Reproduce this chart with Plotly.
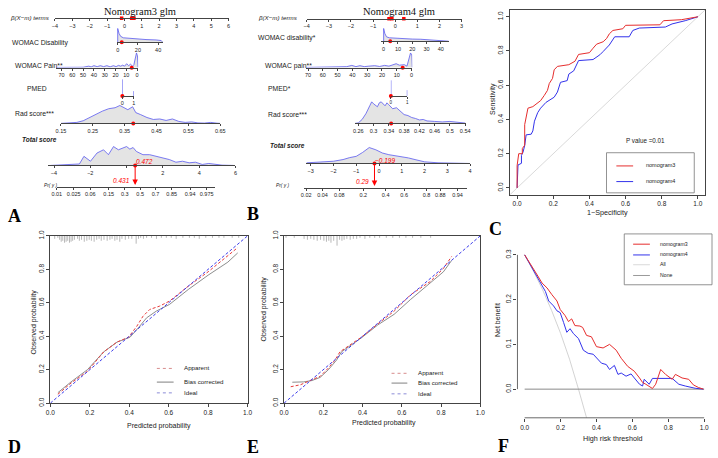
import numpy as np
import plotly.graph_objects as go

W, H = 718, 458
SANS = "Liberation Sans, Arial, sans-serif"
SERIF = "Liberation Serif, Times New Roman, serif"
AX = "#444444"

# ======================= DATA =======================
# ---- Panel A : Nomogram3 glm ----
A_title = "Nomogram3 glm"
A_beta_ticks = [-4, -3, -2, -1, 0, 1, 2, 3, 4, 5, 6]
A_beta_points = [-0.16, 0.42, 0.55]
A_dis_ticks = [0, 20, 40]
A_dis_x = [0, 0, 1.3, 2.9, 5.5, 12, 18.5, 28, 38, 43, 44.6]
A_dis_d = [0, 14, 9, 6, 4.5, 3.8, 3.3, 2.7, 2.3, 1.7, 0]
A_dis_obs = 4
A_pain_ticks = [70, 60, 50, 40, 30, 20, 10, 0]
A_pain_x = [75, 60, 50, 44.7, 42.6, 40, 37, 34, 31, 28, 25, 22, 19.5, 17.3, 15.2, 13.4,
            11.6, 9.7, 7.9, 6.1, 4.3, 3, 1.8, 0.6, -0.3, -0.9]
A_pain_d = [0.2, 0.3, 0.4, 1.5, 0.7, 2, 1, 2, 1, 2, 0.8, 2, 1, 2.3, 1.5, 2.5,
            1.5, 4, 2, 3.5, 1.5, 3, 10, 15, 12, 0]
A_pain_obs = 5
A_pmed_levels = [0, 1]
A_pmed_d = [17, 5]
A_pmed_obs = 0
A_rad_ticks = [0.15, 0.25, 0.35, 0.45, 0.55, 0.65]
A_rad_x = [0.15, 0.18, 0.20, 0.22, 0.25, 0.28, 0.30, 0.32, 0.335, 0.35, 0.36, 0.375, 0.385, 0.40,
           0.42, 0.44, 0.46, 0.48, 0.50, 0.52, 0.54, 0.56, 0.58, 0.60, 0.62, 0.64, 0.65]
A_rad_d = [0, 0.3, 1, 2.7, 8, 12.5, 15, 16, 18.3, 16, 14, 17, 11, 9,
           6, 4, 4.5, 3, 4.5, 2, 1, 1.5, 0.5, 0.3, 1, 0.2, 0]
A_rad_obs = 0.377
A_tot_ticks = [-4, -2, 0, 2, 4, 6]
A_tot_labels = ["−4", "−2", "", "2", "4", "6"]
A_tot_x = [-4.2, -3.5, -3.0, -2.6, -2.35, -1.99, -1.63, -1.27, -1.0, -0.72, -0.45, -0.18, 0, 0.18,
           0.36, 0.54, 0.9, 1.27, 1.63, 2.0, 2.36, 2.72, 3.08, 3.45, 3.8, 4.17, 4.53, 5.26, 5.9]
A_tot_d = [0, 0.5, 1, 1.5, 9.3, 4.3, 12.7, 16, 11, 19.3, 16, 17.7, 19.3, 16.7,
           18.3, 14.3, 11, 11, 9.3, 7.7, 6, 3.3, 4.3, 2.7, 3.3, 1, 2, 0.3, 0]
A_total = 0.472
A_prob = 0.431
A_prob_ticks = [0.01, 0.025, 0.06, 0.15, 0.3, 0.5, 0.7, 0.85, 0.94, 0.975]

# ---- Panel B : Nomogram4 glm ----
B_title = "Nomogram4 glm"
B_beta_ticks = [-4, -3, -2, -1, 0, 1, 2, 3]
B_beta_points = [-0.28, -0.15, 0.39]
B_dis_ticks = [0, 10, 20, 30, 40]
B_dis_x = [0, 0, 0.8, 2, 4, 8, 14, 20, 26, 30, 36, 40, 44, 45.5]
B_dis_d = [0, 13, 8, 4.5, 3.5, 3, 2.6, 2.2, 2, 1.7, 1.3, 1, 0.6, 0]
B_dis_obs = 4.6
B_pain_ticks = [70, 60, 50, 40, 30, 20, 10, 0]
B_pain_x = [71.5, 67, 56, 47, 43.8, 40.4, 37.6, 34.9, 32, 28.9, 24.9, 21.6, 18.2, 15.3,
            12.7, 10.4, 8.2, 4.9, 3.1, 1.8, 0.7, -0.2, -0.5]
B_pain_d = [0.2, 0.3, 0.3, 0.5, 1, 2.3, 1, 2, 1, 1.5, 2, 1.2, 2.3, 1.5,
            2.7, 4, 2.5, 3, 1.5, 10, 15, 13, 0]
B_pain_obs = 6
B_pmed_levels = [0, 1]
B_pmed_d = [16, 6]
B_pmed_obs = 0
B_rad_ticks = [0.26, 0.3, 0.34, 0.38, 0.42, 0.46, 0.5, 0.54]
B_rad_x = [0.2515, 0.26, 0.27, 0.28, 0.29, 0.295, 0.30, 0.31, 0.315, 0.32, 0.33, 0.335, 0.34, 0.35,
           0.36, 0.37, 0.38, 0.39, 0.40, 0.41, 0.42, 0.43, 0.44, 0.46, 0.48, 0.50, 0.52, 0.54]
B_rad_d = [0, 0.5, 4, 10, 18, 22, 20, 17, 21, 22, 18, 21, 19, 15,
           16, 12, 9, 8, 6, 5, 3.5, 4, 2.5, 2, 1.5, 2, 1, 0.3]
B_rad_obs = 0.346
B_tot_ticks = [-3, -2, -1, 0, 1, 2, 3, 4]
B_tot_labels = ["−3", "−2", "−1", "0", "1", "2", "3", "4"]
B_tot_x = [-3.2, -3.16, -2.0, -1.58, -1.29, -1.0, -0.72, -0.43, -0.14, 0.15, 0.43, 0.72,
           1.0, 1.29, 1.58, 2.0, 2.59, 3.16, 4.0]
B_tot_d = [0, 0.7, 2.3, 4, 6, 7.3, 11.3, 16.3, 14, 10.7, 9, 8,
           6.7, 5.7, 4, 1.7, 0.7, 0.3, 0]
B_total = -0.199
B_prob = 0.29
B_prob_ticks = [0.02, 0.04, 0.08, 0.2, 0.4, 0.6, 0.8, 0.88, 0.94]

# ---- Panel C : ROC ----
C_ticks = [0, 0.2, 0.4, 0.6, 0.8, 1.0]
C_red_fpr = [0, 0, 0.009, 0.029, 0.029, 0.042, 0.042, 0.05, 0.06, 0.087, 0.114, 0.13, 0.15, 0.168,
             0.178, 0.196, 0.205, 0.223, 0.286, 0.32, 0.34, 0.40, 0.42, 0.44, 0.476, 0.495, 0.51,
             0.53, 0.585, 0.60, 0.79, 0.81, 0.91, 0.975, 1.0]
C_red_tpr = [0, 0.13, 0.2, 0.2, 0.23, 0.25, 0.37, 0.42, 0.466, 0.475, 0.494, 0.51, 0.54, 0.57,
             0.61, 0.64, 0.69, 0.71, 0.72, 0.74, 0.78, 0.79, 0.816, 0.84, 0.854, 0.873, 0.90,
             0.92, 0.93, 0.95, 0.953, 0.977, 0.983, 0.996, 1.0]
C_blue_fpr = [0, 0.005, 0.024, 0.024, 0.033, 0.042, 0.05, 0.078, 0.087, 0.096, 0.114, 0.13, 0.16,
              0.205, 0.223, 0.24, 0.277, 0.286, 0.313, 0.34, 0.42, 0.458, 0.476, 0.51, 0.54, 0.62,
              0.64, 0.676, 0.82, 0.857, 0.93, 1.0]
C_blue_tpr = [0, 0.134, 0.144, 0.19, 0.21, 0.248, 0.31, 0.314, 0.333, 0.39, 0.44, 0.466, 0.50,
              0.53, 0.56, 0.617, 0.627, 0.665, 0.684, 0.744, 0.75, 0.778, 0.797, 0.835, 0.883, 0.883,
              0.92, 0.934, 0.94, 0.958, 0.977, 1.0]
C_names = ["nomogram3", "nomogram4"]
C_pvalue = "P value =0.01"

# ---- Panel D : calibration nomogram3 ----
D_ticks = [0, 0.2, 0.4, 0.6, 0.8, 1.0]
D_app_x = [0.038, 0.105, 0.188, 0.27, 0.338, 0.396, 0.438, 0.47, 0.504, 0.554, 0.604, 0.70, 0.80, 0.90, 0.95]
D_app_y = [0.053, 0.12, 0.19, 0.306, 0.365, 0.394, 0.459, 0.52, 0.56, 0.58, 0.61, 0.70, 0.785, 0.88, 0.93]
D_bc_x = [0.038, 0.105, 0.188, 0.27, 0.338, 0.404, 0.446, 0.488, 0.537, 0.604, 0.70, 0.80, 0.90, 0.95]
D_bc_y = [0.0625, 0.127, 0.2, 0.306, 0.365, 0.394, 0.45, 0.51, 0.55, 0.59, 0.68, 0.765, 0.843, 0.898]
D_ideal = [0, 1]
D_rug_x = [0.022, 0.038, 0.047, 0.055, 0.063, 0.072, 0.08, 0.088, 0.097, 0.105, 0.113, 0.122, 0.138,
           0.147, 0.158, 0.172, 0.185, 0.197, 0.208, 0.222, 0.235, 0.247, 0.258, 0.272, 0.288, 0.302,
           0.313, 0.327, 0.338, 0.352, 0.363, 0.38, 0.397, 0.413, 0.435, 0.447, 0.458, 0.472, 0.488,
           0.513, 0.538, 0.563, 0.588, 0.613, 0.638, 0.672, 0.705, 0.73, 0.755, 0.788, 0.822, 0.855,
           0.88, 0.922, 0.955]
D_rug_n = [3, 2, 4, 6, 5, 7, 6, 5, 7, 6, 5, 4, 3,
           5, 4, 6, 5, 4, 5, 6, 4, 3, 5, 4, 5, 4,
           3, 5, 4, 6, 3, 4, 3, 3, 8, 3, 2, 3, 2,
           2, 3, 2, 2, 2, 3, 2, 2, 2, 3, 2, 2, 2,
           2, 2, 2]

# ---- Panel E : calibration nomogram4 ----
E_app_x = [0.034, 0.084, 0.142, 0.184, 0.226, 0.26, 0.285, 0.31, 0.394, 0.477, 0.561, 0.645, 0.745, 0.812, 0.854]
E_app_y = [0.098, 0.11, 0.14, 0.16, 0.21, 0.258, 0.307, 0.326, 0.394, 0.473, 0.55, 0.648, 0.727, 0.805, 0.877]
E_bc_x = [0.042, 0.1, 0.142, 0.184, 0.226, 0.268, 0.293, 0.327, 0.394, 0.477, 0.561, 0.645, 0.745, 0.812, 0.854]
E_bc_y = [0.125, 0.127, 0.135, 0.154, 0.2, 0.258, 0.307, 0.336, 0.39, 0.467, 0.531, 0.62, 0.717, 0.785, 0.853]
E_rug_x = [0.01, 0.052, 0.102, 0.119, 0.136, 0.152, 0.169, 0.186, 0.203, 0.216, 0.228, 0.239, 0.253,
           0.27, 0.283, 0.295, 0.306, 0.32, 0.337, 0.353, 0.37, 0.387, 0.412, 0.437, 0.462, 0.487,
           0.521, 0.554, 0.588, 0.621, 0.655, 0.697, 0.747]
E_rug_n = [2, 2, 3, 4, 3, 4, 5, 4, 5, 6, 5, 7, 5,
           10, 4, 5, 4, 3, 4, 3, 3, 2, 3, 2, 2, 2,
           2, 2, 2, 2, 2, 2, 2]
DE_legend = ["Apparent", "Bias corrected", "Ideal"]

# ---- Panel F : decision curve ----
F_xticks = [0, 0.2, 0.4, 0.6, 0.8, 1.0]
F_yticks = [0, 0.1, 0.2, 0.3]
F_red_x = [0, 0.033, 0.07, 0.097, 0.125, 0.152, 0.18, 0.198, 0.226, 0.244, 0.262, 0.28, 0.308, 0.323,
           0.345, 0.372, 0.4, 0.437, 0.473, 0.51, 0.538, 0.574, 0.611, 0.64, 0.657, 0.675, 0.694,
           0.712, 0.73, 0.758, 0.785, 0.822, 0.84, 0.877, 0.914, 0.94, 0.969, 0.996]
F_red_y = [0.3, 0.28, 0.255, 0.237, 0.226, 0.211, 0.197, 0.178, 0.164, 0.151, 0.157, 0.142, 0.141, 0.138,
           0.12, 0.117, 0.095, 0.092, 0.1, 0.087, 0.069, 0.051, 0.04, 0.025, 0.015, 0.011, 0.007,
           0.0015, 0.011, 0.044, 0.033, 0.022, 0.033, 0.025, 0.022, 0.0095, 0.0036, 0.0]
F_blue_x = [0, 0.05, 0.088, 0.116, 0.134, 0.161, 0.18, 0.198, 0.217, 0.235, 0.253, 0.272, 0.3, 0.327,
            0.354, 0.382, 0.428, 0.455, 0.473, 0.5, 0.52, 0.538, 0.565, 0.593, 0.611, 0.64, 0.657,
            0.666, 0.694, 0.712, 0.822, 0.859, 0.895, 0.95, 0.996]
F_blue_y = [0.3, 0.266, 0.24, 0.218, 0.197, 0.186, 0.175, 0.171, 0.149, 0.127, 0.135, 0.124, 0.113, 0.087,
            0.08, 0.078, 0.058, 0.055, 0.044, 0.053, 0.033, 0.036, 0.029, 0.034, 0.025, 0.011, 0.007,
            0.022, 0.011, 0.024, 0.024, 0.011, 0.007, 0.002, 0.0]
F_all_x = [0, 0.05, 0.1, 0.15, 0.2, 0.25, 0.3, 0.345]
F_all_y = [0.3, 0.263, 0.222, 0.176, 0.125, 0.067, 0.0, -0.064]
F_none_x = [0, 1]
F_none_y = [0, 0]
F_names = ["nomogram3", "nomogram4", "All", "None"]

# ======================= LAYOUT HELPERS =======================
fig = go.Figure()
axes_layout, shapes, annots = {}, [], []
counter = [0]


def new_axes(xdom_px, ydom_px, xrange, yrange, xkw=None, ykw=None):
    counter[0] += 1
    s = "" if counter[0] == 1 else str(counter[0])
    xa = dict(domain=[xdom_px[0] / W, xdom_px[1] / W], range=list(xrange), anchor="y" + s,
              showgrid=False, zeroline=False, fixedrange=True)
    ya = dict(domain=[1 - ydom_px[1] / H, 1 - ydom_px[0] / H], range=list(yrange), anchor="x" + s,
              showgrid=False, zeroline=False, fixedrange=True)
    xa.update(xkw or {})
    ya.update(ykw or {})
    axes_layout["xaxis" + s] = xa
    axes_layout["yaxis" + s] = ya
    return "x" + s, "y" + s


def text(x, y, s, size, color="#222", anchor="left", angle=0, family=SANS):
    annots.append(dict(x=x / W, y=1 - y / H, xref="paper", yref="paper", text=s, showarrow=False,
                       xanchor=anchor, yanchor="middle", textangle=angle,
                       font=dict(size=size, color=color, family=family)))


def fmt(v):
    return str(v).replace("-", "−")


def nomo_axis(line_y, top_y, cal, rng, ticks, labels, fsize, yr):
    v0, p0, v1, p1 = cal
    s = (p1 - p0) / (v1 - v0)
    x0 = p0 + (rng[0] - v0) * s
    x1 = p0 + (rng[1] - v0) * s
    xkw = dict(showline=True, linecolor=AX, linewidth=0.8, ticks="outside", ticklen=2, tickwidth=0.6,
               tickcolor=AX, tickvals=ticks, ticktext=labels,
               tickfont=dict(size=fsize, color="#222", family=SANS))
    return new_axes((x0, x1), (top_y, line_y), rng, yr, xkw, dict(visible=False))


DENS_FILL = "#e4e4e4"
DENS_LINE = "rgb(90,90,240)"


def density(xa, ya, xs, ds):
    fig.add_trace(go.Scatter(x=xs, y=ds, mode="lines", fill="tozeroy", fillcolor=DENS_FILL,
                             line=dict(color=DENS_LINE, width=0.8), xaxis=xa, yaxis=ya, hoverinfo="skip"))


def obs_dot(xa, ya, v, symbol="circle", size=4):
    vals = [v] if np.isscalar(v) else list(v)
    fig.add_trace(go.Scatter(x=vals, y=[0] * len(vals),
                             mode="markers", marker=dict(color="red", size=size, symbol=symbol),
                             cliponaxis=False, xaxis=xa, yaxis=ya, hoverinfo="skip"))


def build_nomogram(L, d):
    text(L["title"][0], L["title"][1], d["title"], 10.5, "#111", "center", family=SERIF)
    # beta terms
    b = L["beta"]
    xa, ya = nomo_axis(b["line"], b["line"] - 4, b["cal"], b["rng"], d["beta_ticks"],
                       [fmt(t) for t in d["beta_ticks"]], 5.5, (0, 1))
    obs_dot(xa, ya, d["beta_points"], "square", 3.5)
    text(b["label"][0], b["label"][1], "<i>β(X−m) terms</i>", 6.2)
    # continuous rows
    for key, name in [("dis", d["dis_name"]), ("pain", d["pain_name"])]:
        r = L[key]
        xa, ya = nomo_axis(r["line"], r["line"] - r["h"], r["cal"], r["rng"], d[key + "_ticks"],
                           [fmt(t) for t in d[key + "_ticks"]], 5.5, (0, r["h"]))
        density(xa, ya, d[key + "_x"], d[key + "_d"])
        obs_dot(xa, ya, d[key + "_obs"])
        text(r["label"][0], r["label"][1], name, 6.8)
    # PMED (categorical)
    r = L["pmed"]
    xa, ya = nomo_axis(r["line"], r["line"] - r["h"], r["cal"], r["rng"], d["pmed_levels"],
                       [fmt(t) for t in d["pmed_levels"]], r["fs"], (0, r["h"]))
    px_, py_ = [], []
    for lv, dv in zip(d["pmed_levels"], d["pmed_d"]):
        px_ += [lv, lv, None]
        py_ += [0, dv, None]
    fig.add_trace(go.Scatter(x=px_, y=py_, mode="lines", line=dict(color=DENS_LINE, width=1),
                             xaxis=xa, yaxis=ya, hoverinfo="skip", cliponaxis=False))
    obs_dot(xa, ya, d["pmed_obs"])
    text(r["label"][0], r["label"][1], d["pmed_name"], 6.8)
    # Rad score
    r = L["rad"]
    xa, ya = nomo_axis(r["line"], r["line"] - r["h"], r["cal"], r["rng"], d["rad_ticks"],
                       [fmt(t) for t in d["rad_ticks"]], 5.5, (0, r["h"]))
    density(xa, ya, d["rad_x"], d["rad_d"])
    obs_dot(xa, ya, d["rad_obs"])
    text(r["label"][0], r["label"][1], "Rad score***", 6.8)
    # Total score
    r = L["tot"]
    xa, ya = nomo_axis(r["line"], r["line"] - r["h"], r["cal"], r["rng"], d["tot_ticks"],
                       d["tot_labels"], 5.5, (0, r["h"]))
    density(xa, ya, d["tot_x"], d["tot_d"])
    obs_dot(xa, ya, d["total"])
    annots.append(dict(x=d["total"], y=0, xref=xa, yref=ya, text="<i>%s</i>" % fmt(d["total"]),
                       showarrow=False, xanchor="left", yanchor="middle", xshift=-1, yshift=r["ys"],
                       font=dict(size=6.5, color="red", family=SANS)))
    text(r["label"][0], r["label"][1], "<b><i>Total score</i></b>", 6.5)
    # Pr(y) axis, aligned with total score scale
    p = L["pr"]
    c = np.log(d["prob"] / (1 - d["prob"])) - d["total"]
    pt = np.array(d["prob_ticks"])
    pos = list(np.log(pt / (1 - pt)) - c)
    xa, ya = nomo_axis(p["line"], r["line"], r["cal"], p["rng"], pos,
                       [fmt(t) for t in d["prob_ticks"]], 5.5, (0, 1))
    annots.append(dict(x=d["total"], y=0, ax=d["total"], ay=1, xref=xa, yref=ya, axref=xa, ayref=ya,
                       showarrow=True, arrowhead=2, arrowsize=1.1, arrowwidth=1, arrowcolor="red",
                       standoff=2, text=""))
    annots.append(dict(x=d["total"], y=0, xref=xa, yref=ya, text="<i>%s</i>" % fmt(d["prob"]),
                       showarrow=False, xanchor="right", yanchor="middle", xshift=-3, yshift=6,
                       font=dict(size=6.5, color="red", family=SANS)))
    text(p["label"][0], p["label"][1], "<i>Pr( y )</i>", 4.8)


A_L = dict(
    title=(137, 6),
    beta=dict(line=12.5, cal=(-4, 50.7, 6, 226.7), rng=(-4.0, 6.0), label=(3, 12)),
    dis=dict(line=37, h=16, cal=(0, 114.3, 40, 155.3), rng=(-1, 44.6), label=(5, 38)),
    pain=dict(line=63, h=17, cal=(70, 57.3, 0, 134), rng=(75, -1), label=(8, 61)),
    pmed=dict(line=92, h=19, cal=(0, 119, 1, 130.7), rng=(0, 1), label=(20, 84), fs=5.5),
    rad=dict(line=120, h=21, cal=(0.15, 56.7, 0.65, 218.3), rng=(0.15, 0.65), label=(8, 110)),
    tot=dict(line=163, h=22, cal=(0, 123.3, 2, 160.1), rng=(-4.35, 6.0), label=(15, 136), ys=4),
    pr=dict(line=185, rng=(-3.85, 4.9), label=(38, 183)),
)
B_L = dict(
    title=(400, 6),
    beta=dict(line=13, cal=(-4, 306, 3, 463), rng=(-4.0, 3.0), label=(255, 12)),
    dis=dict(line=36, h=16, cal=(0, 384, 40, 442), rng=(-1.6, 45.5), label=(255, 33)),
    pain=dict(line=63, h=17, cal=(70, 307.3, 0, 412.3), rng=(71.5, -0.5), label=(262, 61)),
    pmed=dict(line=92, h=19, cal=(0, 391.3, 1, 408), rng=(0, 1), label=(265, 84), fs=4.5),
    rad=dict(line=120, h=25, cal=(0.26, 358.3, 0.54, 466.7), rng=(0.2515, 0.543), label=(265, 111)),
    tot=dict(line=161, h=19, cal=(-3, 310, 4, 471.7), rng=(-3.2, 4.0), label=(267, 143), ys=3),
    pr=dict(line=186, rng=(-3.3, 3.85), label=(273, 183)),
)

build_nomogram(A_L, dict(
    title=A_title, beta_ticks=A_beta_ticks, beta_points=A_beta_points,
    dis_name="WOMAC Disability", dis_ticks=A_dis_ticks, dis_x=A_dis_x, dis_d=A_dis_d, dis_obs=A_dis_obs,
    pain_name="WOMAC Pain**", pain_ticks=A_pain_ticks, pain_x=A_pain_x, pain_d=A_pain_d, pain_obs=A_pain_obs,
    pmed_name="PMED", pmed_levels=A_pmed_levels, pmed_d=A_pmed_d, pmed_obs=A_pmed_obs,
    rad_ticks=A_rad_ticks, rad_x=A_rad_x, rad_d=A_rad_d, rad_obs=A_rad_obs,
    tot_ticks=A_tot_ticks, tot_labels=A_tot_labels, tot_x=A_tot_x, tot_d=A_tot_d,
    total=A_total, prob=A_prob, prob_ticks=A_prob_ticks))
build_nomogram(B_L, dict(
    title=B_title, beta_ticks=B_beta_ticks, beta_points=B_beta_points,
    dis_name="WOMAC disability*", dis_ticks=B_dis_ticks, dis_x=B_dis_x, dis_d=B_dis_d, dis_obs=B_dis_obs,
    pain_name="WOMAC pain**", pain_ticks=B_pain_ticks, pain_x=B_pain_x, pain_d=B_pain_d, pain_obs=B_pain_obs,
    pmed_name="PMED*", pmed_levels=B_pmed_levels, pmed_d=B_pmed_d, pmed_obs=B_pmed_obs,
    rad_ticks=B_rad_ticks, rad_x=B_rad_x, rad_d=B_rad_d, rad_obs=B_rad_obs,
    tot_ticks=B_tot_ticks, tot_labels=B_tot_labels, tot_x=B_tot_x, tot_d=B_tot_d,
    total=B_total, prob=B_prob, prob_ticks=B_prob_ticks))


def box_axis(ticks, angle=0, mirror=True, showline=True):
    return dict(showline=showline, mirror=mirror, linecolor=AX, linewidth=0.8, ticks="outside", ticklen=3,
                tickwidth=0.7, tickcolor=AX, tickvals=ticks, tickformat=".1f", tickangle=angle,
                tickfont=dict(size=6.5, color="#222", family=SANS))


def manual_legend(items, ys, lx0, lx1, tx, fsize, box=None):
    for (name, color, dash, width), y in zip(items, ys):
        yy = y + 0.5
        shapes.append(dict(type="line", xref="paper", yref="paper", x0=lx0 / W, x1=lx1 / W,
                           y0=1 - yy / H, y1=1 - yy / H, line=dict(color=color, dash=dash, width=width)))
        text(tx, y, name, fsize)
    if box:
        shapes.append(dict(type="rect", xref="paper", yref="paper", x0=box[0] / W, x1=box[1] / W,
                           y0=1 - box[3] / H, y1=1 - box[2] / H, line=dict(color="#777", width=0.8)))


# ---------------- Panel C ----------------
C_rng = (-0.04, 1.04)
xa, ya = new_axes((512, 710), (4, 193), C_rng, C_rng, box_axis(C_ticks), box_axis(C_ticks, -90))
fig.add_trace(go.Scatter(x=list(C_rng), y=list(C_rng), mode="lines", line=dict(color="#c8c8c8", width=0.7),
                         xaxis=xa, yaxis=ya, hoverinfo="skip"))
fig.add_trace(go.Scatter(x=C_blue_fpr, y=C_blue_tpr, mode="lines", line=dict(color="rgb(50,50,235)", width=1),
                         xaxis=xa, yaxis=ya))
fig.add_trace(go.Scatter(x=C_red_fpr, y=C_red_tpr, mode="lines", line=dict(color="rgb(230,45,45)", width=1),
                         xaxis=xa, yaxis=ya))
text(495, 95, "Sensitivity", 7, anchor="center", angle=-90)
text(611, 211, "1−Specificity", 7.2, anchor="center")
text(650, 138, C_pvalue, 6.3, anchor="center")
manual_legend([(C_names[0], "rgb(230,45,45)", "solid", 1), (C_names[1], "rgb(50,50,235)", "solid", 1)],
              [163, 179], 620, 637, 648, 5.5, box=(610, 699, 150, 191))


# ---------------- Panels D & E ----------------
def calib_panel(xdom, app_x, app_y, bc_x, bc_y, rug_x, rug_n, xlab_xy, ylab_xy, leg_ys, leg_x):
    xa, ya = new_axes(xdom, (235, 406), (0, 1), (0, 1), box_axis(D_ticks), box_axis(D_ticks, -90))
    unit = 1.0 / 171
    rx, ry = [], []
    for x, n in zip(rug_x, rug_n):
        rx += [x, x, None]
        ry += [1, 1 - n * unit, None]
    fig.add_trace(go.Scatter(x=rx, y=ry, mode="lines", line=dict(color="#9a9a9a", width=0.7),
                             xaxis=xa, yaxis=ya, hoverinfo="skip"))
    fig.add_trace(go.Scatter(x=bc_x, y=bc_y, mode="lines", line=dict(color="#707070", width=0.8),
                             xaxis=xa, yaxis=ya))
    fig.add_trace(go.Scatter(x=app_x, y=app_y, mode="lines",
                             line=dict(color="rgb(230,60,60)", width=1, dash="3px,2px"), xaxis=xa, yaxis=ya))
    fig.add_trace(go.Scatter(x=D_ideal, y=D_ideal, mode="lines",
                             line=dict(color="rgb(60,60,235)", width=1, dash="3px,2px"), xaxis=xa, yaxis=ya))
    text(ylab_xy[0], ylab_xy[1], "Observed probability", 7, anchor="center", angle=-90)
    text(xlab_xy[0], xlab_xy[1], "Predicted probability", 7, anchor="center")
    manual_legend([(DE_legend[0], "rgb(215,140,140)", "dot", 1), (DE_legend[1], "#606060", "solid", 0.8),
                   (DE_legend[2], "rgb(140,140,215)", "dot", 1)],
                  leg_ys, leg_x[0], leg_x[1], leg_x[2], 6.2)


calib_panel((46, 246), D_app_x, D_app_y, D_bc_x, D_bc_y, D_rug_x, D_rug_n,
            (156, 429), (29, 323), [370, 384, 395], (154, 171, 180))
calib_panel((283, 482), E_app_x, E_app_y, E_bc_x, E_bc_y, E_rug_x, E_rug_n,
            (384, 426), (263, 310), [375, 385, 396], (392, 408, 417))

# ---------------- Panel F ----------------
xa, ya = new_axes((519.7, 716.3), (248, 421), (-0.04, 1.04), (-0.064, 0.314),
                  box_axis(F_xticks, 0, False, False), box_axis(F_yticks, -90, False, False))
shapes.append(dict(type="line", xref=xa, yref=ya + " domain", x0=min(F_xticks), x1=max(F_xticks), y0=0, y1=0,
                   line=dict(color=AX, width=0.8)))
shapes.append(dict(type="line", xref=xa + " domain", yref=ya, x0=0, x1=0, y0=min(F_yticks), y1=max(F_yticks),
                   line=dict(color=AX, width=0.8)))
fig.add_trace(go.Scatter(x=F_all_x, y=F_all_y, mode="lines", line=dict(color="#c8c8c8", width=0.8),
                         xaxis=xa, yaxis=ya))
fig.add_trace(go.Scatter(x=F_none_x, y=F_none_y, mode="lines", line=dict(color="#8a8a8a", width=1),
                         xaxis=xa, yaxis=ya))
fig.add_trace(go.Scatter(x=F_blue_x, y=F_blue_y, mode="lines", line=dict(color="rgb(50,50,235)", width=1),
                         xaxis=xa, yaxis=ya))
fig.add_trace(go.Scatter(x=F_red_x, y=F_red_y, mode="lines", line=dict(color="rgb(230,45,45)", width=1),
                         xaxis=xa, yaxis=ya))
text(500, 321, "Net benefit", 7, anchor="center", angle=-90)
text(617, 442, "High risk threshold", 7.2, anchor="center")
manual_legend([(F_names[0], "rgb(230,45,45)", "solid", 1), (F_names[1], "rgb(50,50,235)", "solid", 1),
               (F_names[2], "#d0d0d0", "solid", 0.8), (F_names[3], "#9a9a9a", "solid", 1)],
              [243, 254, 264, 275], 637, 654, 662, 5.2, box=(628, 717, 233, 285))

# ---------------- Panel letters ----------------
for lab, x, y in [("A", 9.5, 215), ("B", 251.5, 213), ("C", 497.5, 228),
                  ("D", 10, 451), ("E", 251, 451), ("F", 506, 450)]:
    text(x, y, "<b>%s</b>" % lab, 18, "#000", "center", family=SERIF)

fig.update_layout(width=W, height=H, margin=dict(l=0, r=0, t=0, b=0), showlegend=False,
                  paper_bgcolor="white", plot_bgcolor="white", font=dict(family=SANS, color="#222"),
                  shapes=shapes, annotations=annots, **axes_layout)
fig.write_html("out.html")
